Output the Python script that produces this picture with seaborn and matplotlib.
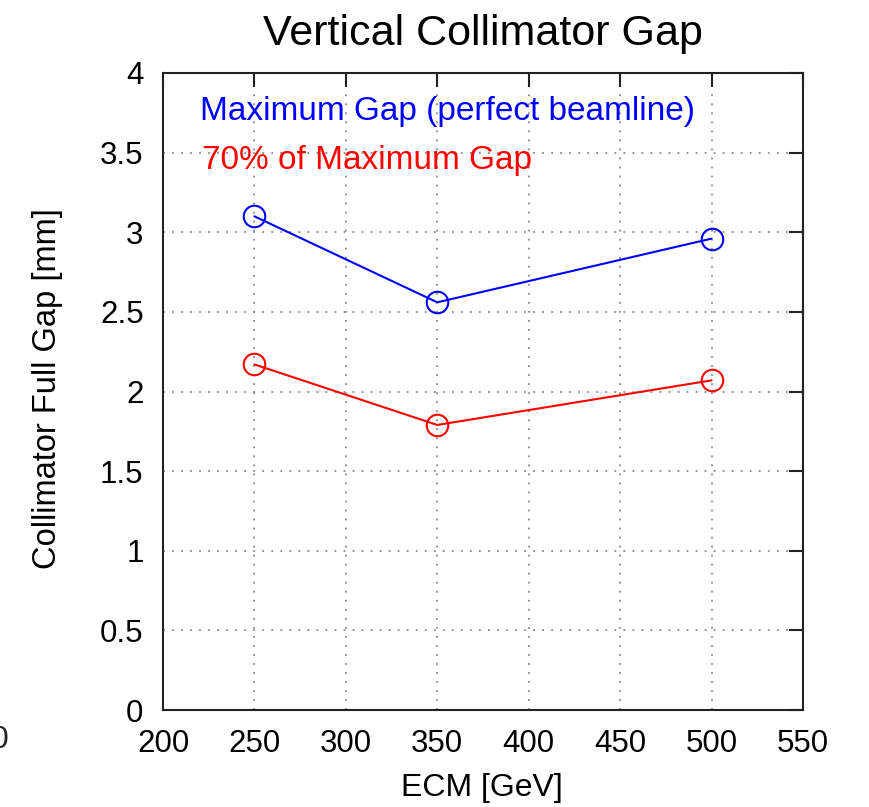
import matplotlib
matplotlib.use("Agg")
import matplotlib.pyplot as plt
import seaborn as sns
import pandas as pd

ecm = [250, 350, 500]
max_gap = [3.10, 2.56, 2.96]
gap70 = [2.17, 1.79, 2.07]
series_names = ["Maximum Gap (perfect beamline)", "70% of Maximum Gap"]
series_colors = ["#0000ff", "#ff0000"]
xticks = [200, 250, 300, 350, 400, 450, 500, 550]
yticks = [0, 0.5, 1, 1.5, 2, 2.5, 3, 3.5, 4]

sns.set_style("white")
plt.rcParams['font.family'] = ['Liberation Sans', 'DejaVu Sans']

df = pd.DataFrame({
    "ECM": ecm * 2,
    "Gap": max_gap + gap70,
    "Series": [series_names[0]] * 3 + [series_names[1]] * 3,
})

W, H = 870, 807
fig = plt.figure(figsize=(8.7, 8.07), dpi=100)
ax = fig.add_axes([163/W, 1-710/H, (803-163)/W, (710-73)/H])

for name, col in zip(series_names, series_colors):
    sub = df[df["Series"] == name]
    sns.lineplot(data=sub, x="ECM", y="Gap", ax=ax, color=col, lw=1.5,
                 marker="o", markersize=15.5, markerfacecolor="none",
                 markeredgecolor=col, markeredgewidth=1.5, legend=False)

ax.set_xlim(200, 550)
ax.set_ylim(0, 4)
ax.set_xticks(xticks)
ax.set_yticks(yticks)
ax.set_xticklabels([str(t) for t in xticks])
ax.set_yticklabels([f"{t:g}" for t in yticks])
ax.tick_params(direction="in", length=10, width=1.5, labelsize=22.5,
               top=True, right=True, colors="#222222")
ax.tick_params(axis="x", pad=14)
ax.tick_params(axis="y", pad=14)
for t in ax.get_xticklabels() + ax.get_yticklabels():
    t.set_color("black")
ax.grid(True, linestyle=(0, (1, 4)), color="#888888", lw=1.3)
for s in ax.spines.values():
    s.set_visible(True)
    s.set_color("#222222")
    s.set_linewidth(1.5)

ax.set_xlabel("ECM [GeV]", fontsize=23, color="black")
ax.xaxis.set_label_coords(0.499, -0.099)
ax.set_ylabel("Collimator Full Gap [mm]", fontsize=23.5, color="black")
ax.yaxis.set_label_coords(-0.156, 0.505)
ax.set_title("Vertical Collimator Gap", fontsize=31, pad=20, color="black")

fig.text(200/W, 1-120/H, series_names[0], color=series_colors[0],
         fontsize=24, va="baseline", ha="left")
fig.text(202/W, 1-169/H, series_names[1], color=series_colors[1],
         fontsize=24, va="baseline", ha="left")

fig.text(8/W, 1-740/H, "0", fontsize=23, ha="right", va="center")

fig.savefig("out.png", dpi=100, facecolor="white")
